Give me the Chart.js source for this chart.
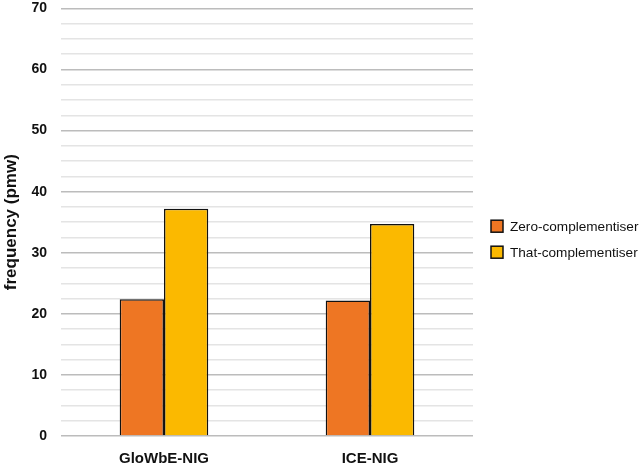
<!DOCTYPE html>
<html>
<head>
<meta charset="utf-8">
<script src="https://cdn.jsdelivr.net/npm/chart.js@4"></script>
<style>
  html, body { margin: 0; padding: 0; background: #fff; overflow: hidden; }
  #wrap { width: 644px; height: 467px; overflow: hidden; }
  #freqChart { display: block; margin-top: -14px; }
</style>
</head>
<body>
<div id="wrap"><canvas id="freqChart" width="644" height="481"></canvas></div>
<script>
// Chart data
const categories = ['GloWbE-NIG', 'ICE-NIG'];
const zeroComp = [22.4, 22.2];
const thatComp = [37.2, 34.7];
const seriesNames = ['Zero-complementiser', 'That-complementiser'];
const seriesColors = ['#EE7623', '#FBB900'];

const FONT = 'Liberation Sans, Arial, sans-serif';

// Legend drawn at the right of the plot, vertically centred like the original
const sideLegend = {
    id: 'sideLegend',
    afterDraw(chart) {
        const { ctx, chartArea } = chart;
        const x = chartArea.right + 18;
        const midY = (chartArea.top + chartArea.bottom) / 2 + 17;
        const gap = 26;
        ctx.save();
        ctx.font = '13.6px ' + FONT;
        ctx.textBaseline = 'middle';
        chart.data.datasets.forEach((ds, i) => {
            const y = midY + (i - 0.5) * gap;
            ctx.fillStyle = ds.backgroundColor;
            ctx.fillRect(x, y - 6, 12, 12);
            ctx.strokeStyle = '#111';
            ctx.lineWidth = 1.5;
            ctx.strokeRect(x, y - 6, 12, 12);
            ctx.fillStyle = '#111';
            ctx.fillText(ds.label, x + 19, y + 1);
        });
        ctx.restore();
    }
};

const ctx = document.getElementById('freqChart').getContext('2d');

new Chart(ctx, {
    type: 'bar',
    data: {
        labels: categories,
        datasets: [
            {
                label: seriesNames[0],
                data: zeroComp,
                backgroundColor: seriesColors[0],
                borderColor: '#111',
                borderWidth: 1.5,
                categoryPercentage: 0.43,
                barPercentage: 1.0
            },
            {
                label: seriesNames[1],
                data: thatComp,
                backgroundColor: seriesColors[1],
                borderColor: '#111',
                borderWidth: 1.5,
                categoryPercentage: 0.43,
                barPercentage: 1.0
            }
        ]
    },
    options: {
        responsive: false,
        animation: false,
        layout: { padding: { top: 0, left: 1, right: 171, bottom: -15 } },
        plugins: {
            legend: { display: false },
            tooltip: { enabled: false }
        },
        scales: {
            x: {
                grid: { display: false, drawTicks: false },
                border: { display: false },
                ticks: {
                    color: '#111',
                    padding: 14,
                    font: { family: FONT, size: 15, weight: 'bold' }
                }
            },
            y: {
                min: 0,
                max: 70,
                border: { display: false },
                grid: {
                    drawTicks: false,
                    lineWidth: 1.5,
                    color: (c) => (c.tick && c.tick.value % 10 === 0) ? '#bcbcbc' : '#e4e4e4'
                },
                ticks: {
                    stepSize: 2.5,
                    autoSkip: false,
                    padding: 14,
                    color: '#111',
                    font: { family: FONT, size: 14, weight: 'bold' },
                    callback: (v) => (v % 10 === 0 ? v : '')
                },
                title: {
                    display: true,
                    text: 'frequency (pmw)',
                    color: '#111',
                    padding: { top: 0, bottom: -4 },
                    font: { family: FONT, size: 17, weight: 'bold' }
                }
            }
        }
    },
    plugins: [sideLegend]
});
</script>
</body>
</html>
